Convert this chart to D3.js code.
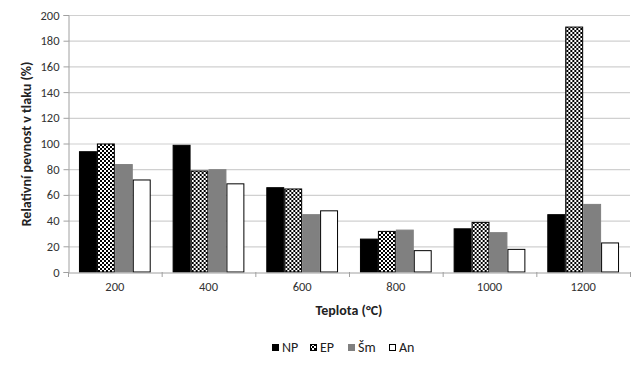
<!DOCTYPE html>
<html>
<head>
<meta charset="utf-8">
<script src="https://cdn.jsdelivr.net/npm/d3@7"></script>
<style>
body { margin:0; background:#fff; }
text { font-family: Calibri, Carlito, "Liberation Sans", Arial, sans-serif; }
</style>
</head>
<body>
<svg id="chart" width="644" height="366"></svg>
<script>
// data
var categories = ["200", "400", "600", "800", "1000", "1200"];
var seriesNames = ["NP", "EP", "Šm", "An"];
var NP = [94, 99, 66, 26, 34, 45];
var EP = [100, 79, 65, 32, 39, 191];
var Sm = [84, 80, 45, 33, 31, 53];
var An = [72, 69, 48, 17, 18, 23];
var yTicks = [0, 20, 40, 60, 80, 100, 120, 140, 160, 180, 200];

var series = [NP, EP, Sm, An];

var svg = d3.select("#chart");

var plot_left = 68, plot_right = 630, plot_top = 15, plot_bottom = 272;

// checker pattern for EP
var defs = svg.append("defs");
var pat = defs.append("pattern")
    .attr("id", "checker")
    .attr("width", 4).attr("height", 4)
    .attr("patternUnits", "userSpaceOnUse");
pat.append("rect").attr("width", 4).attr("height", 4).attr("fill", "#fff");
pat.append("rect").attr("width", 2).attr("height", 2).attr("fill", "#000");
pat.append("rect").attr("x", 2).attr("y", 2).attr("width", 2).attr("height", 2).attr("fill", "#000");

var fills = ["#000000", "url(#checker)", "#808080", "#ffffff"];
var strokes = ["#000000", "#000000", "#808080", "#000000"];

var x0 = d3.scaleBand().domain(categories).range([plot_left, plot_right]).padding(0);
var bw = x0.bandwidth();
var x1 = d3.scaleBand().domain(d3.range(4)).range([bw * 0.117, bw * 0.883]).padding(0);
var y = d3.scaleLinear().domain([0, 200]).range([plot_bottom, plot_top]);

// gridlines
svg.append("g").selectAll("line")
    .data(yTicks.slice(1))
    .enter().append("line")
    .attr("x1", plot_left).attr("x2", plot_right)
    .attr("y1", function(d){ return y(d) + 0.5 })
    .attr("y2", function(d){ return y(d) + 0.5 })
    .attr("stroke", "#d0d0d0")
    .attr("stroke-width", 1.2)

// y axis
var yAxis = svg.append("g")
    .attr("transform", "translate(" + (plot_left + 0.5) + ",0)")
    .call(d3.axisLeft(y).tickValues(yTicks).tickSize(5).tickPadding(4));
yAxis.select(".domain").attr("stroke", "#a0a0a0");
yAxis.selectAll(".tick line").attr("stroke", "#a0a0a0");
yAxis.selectAll("text").attr("fill", "#333").style("font-size", "12.5px")
    .style("font-family", "Calibri, Carlito, 'Liberation Sans', Arial, sans-serif");

// bars
var groups = svg.append("g").selectAll("g")
    .data(categories)
    .enter().append("g")
    .attr("transform", function(d){ return "translate(" + x0(d) + ",0)" });

groups.selectAll("rect")
    .data(function(d, i){ return series.map(function(s, j){ return {j: j, v: s[i]} }) })
    .enter().append("rect")
    .attr("x", function(d){ return x1(d.j) + 0.5 })
    .attr("y", function(d){ return y(d.v) + 0.5 })
    .attr("width", x1.bandwidth() - 1)
    .attr("height", function(d){ return plot_bottom - y(d.v) - 0.5 })
    .attr("fill", function(d){ return fills[d.j] })
    .attr("stroke", function(d){ return strokes[d.j] })
    .attr("stroke-width", 1)

// x axis
var xAxis = svg.append("g")
    .attr("transform", "translate(0," + (plot_bottom + 0.5) + ")")
    .call(d3.axisBottom(x0).tickSize(0).tickPadding(10));
xAxis.select(".domain").attr("stroke", "#a0a0a0");
xAxis.selectAll("text").attr("fill", "#333").style("font-size", "12.5px")
    .style("font-family", "Calibri, Carlito, 'Liberation Sans', Arial, sans-serif");

// boundary ticks
svg.append("g").selectAll("line")
    .data(d3.range(categories.length + 1))
    .enter().append("line")
    .attr("x1", function(i){ return plot_left + i * bw + 0.5 })
    .attr("x2", function(i){ return plot_left + i * bw + 0.5 })
    .attr("y1", plot_bottom).attr("y2", plot_bottom + 5)
    .attr("stroke", "#a0a0a0");

// axis titles
svg.append("text")
    .attr("x", 349).attr("y", 315)
    .attr("text-anchor", "middle")
    .style("font-size", "14px").style("font-weight", "bold")
    .attr("fill", "#222")
    .text("Teplota (°C)");

svg.append("text")
    .attr("transform", "translate(31,144) rotate(-90)")
    .attr("text-anchor", "middle")
    .style("font-size", "14px").style("font-weight", "bold")
    .attr("fill", "#222")
    .text("Relativní pevnost v tlaku (%)");

// legend
var legendX = [272, 310, 348, 389];
var legend = svg.append("g").selectAll("g")
    .data(seriesNames)
    .enter().append("g")
    .attr("transform", function(d, i){ return "translate(" + legendX[i] + ",344)" });
legend.append("rect")
    .attr("x", 0.5).attr("y", 0.5)
    .attr("width", 6).attr("height", 6)
    .attr("fill", function(d, i){ return fills[i] })
    .attr("stroke", function(d, i){ return strokes[i] })
legend.append("text")
    .attr("x", 10).attr("y", 8)
    .style("font-size", "14px")
    .attr("fill", "#222")
    .text(function(d){ return d });
</script>
</body>
</html>
